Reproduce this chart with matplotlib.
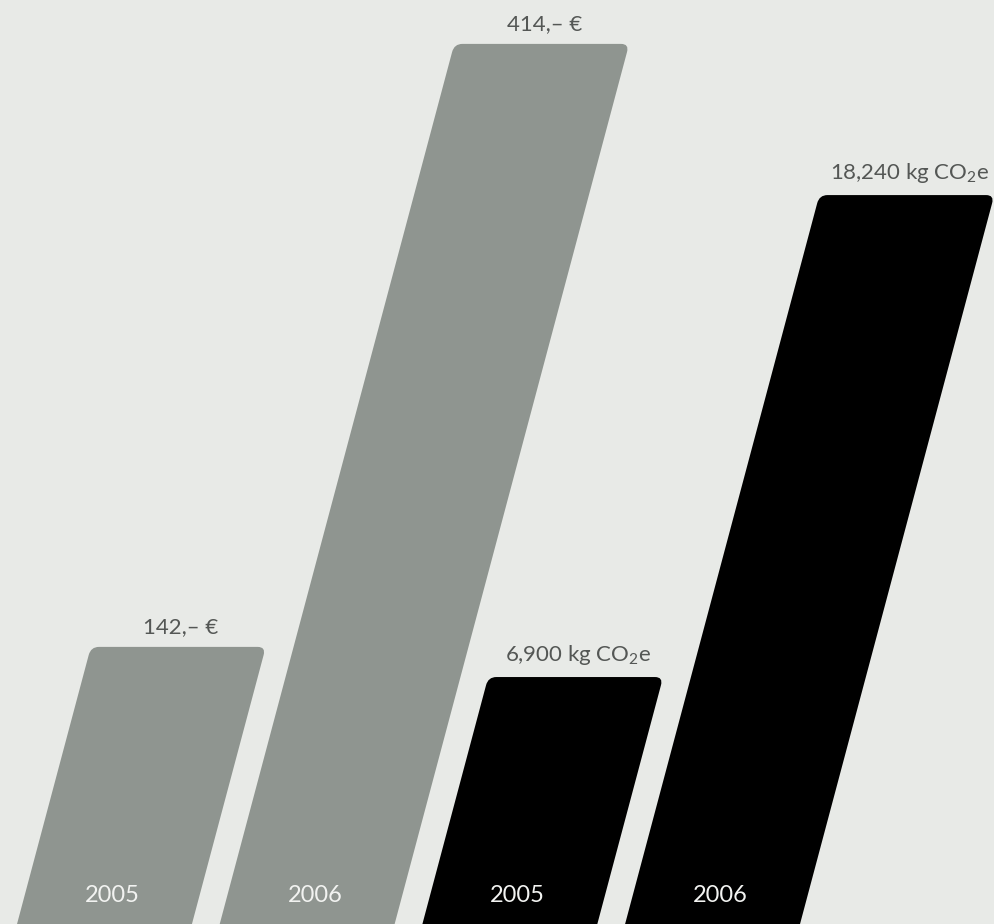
import numpy as np
import matplotlib
matplotlib.use('Agg')
import matplotlib.pyplot as plt
from matplotlib.patches import FancyBboxPatch
from matplotlib.transforms import Affine2D

# Data
years = ['2005', '2006']
cost_eur = [142, 414]
co2_kg = [6900, 18240]
cost_labels = ['142,– €', '414,– €']
co2_labels = ['6,900 kg CO$\\mathregular{_2}$e', '18,240 kg CO$\\mathregular{_2}$e']

bg = '#e8eae7'
grey = '#8f9590'
black = '#000000'

plt.rcParams['font.family'] = ['Lato', 'DejaVu Sans']

fig = plt.figure(figsize=(9.94, 9.24), dpi=100, facecolor=bg)
ax1 = fig.add_axes([0, 0, 1, 1])
ax2 = ax1.twinx()
for ax in (ax1, ax2):
    ax.set_axis_off()
    ax.patch.set_visible(False)

# x: one unit per bar slot; y: each series on its own scale, baseline below the frame
ax1.set_xlim(-0.084, 4.82)
ax1.set_ylim(17, 433.8)
ax2.set_ylim(1089, 22830)

slant = Affine2D().skew(np.arctan(0.2665), 0)
width = 0.863

def draw_group(ax, xs, vals, labels, color):
    tr = ax.transData + slant
    (x0, x1), (y0, y1) = ax.get_xlim(), ax.get_ylim()
    bbox = ax.get_window_extent()
    ypx = (y1 - y0) / bbox.height
    # aspect of y units to x units per pixel, for round corners
    asp = ypx / ((x1 - x0) / bbox.width)
    for x, v, lab, yr in zip(xs, vals, labels, years):
        p = FancyBboxPatch((x, 0), width, v,
                           boxstyle='round,pad=0,rounding_size=0.04',
                           mutation_aspect=asp, transform=tr,
                           facecolor=color, edgecolor='none')
        ax.add_patch(p)
        ax.text(x + width / 2, v + 10 * ypx, lab, transform=tr,
                ha='center', va='bottom', fontsize=16,
                color='#545755')
        ax.text(x + width / 2, y0 + 29 * ypx, yr, transform=tr,
                ha='center', va='center', fontsize=17,
                color='#f2f3f1')

draw_group(ax1, [0, 1], cost_eur, cost_labels, grey)
draw_group(ax2, [2, 3], co2_kg, co2_labels, black)

fig.savefig('out.png', dpi=100, facecolor=bg)
